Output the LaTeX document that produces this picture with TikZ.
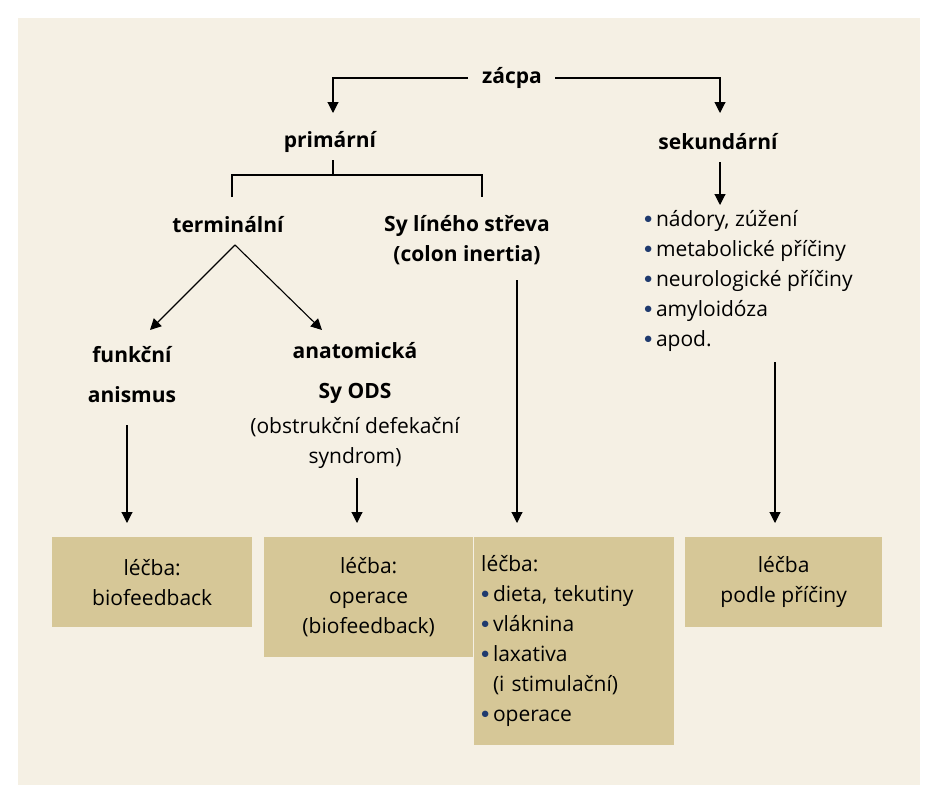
\documentclass[tikz,border=0pt]{standalone}
\usepackage{fontspec}
\setmainfont{Open Sans}
\usetikzlibrary{arrows.meta}
\definecolor{bg}{HTML}{F5F0E4}
\definecolor{boxc}{HTML}{D6C797}
\definecolor{bul}{HTML}{1F3A6E}
\begin{document}
\begin{tikzpicture}[x=1pt,y=-1pt,
  lab/.style={font=\fontsize{21}{30}\selectfont\bfseries,inner sep=0pt,align=center},
  txt/.style={font=\fontsize{21}{30}\selectfont,inner sep=0pt,align=center},
  box/.style={fill=boxc,draw=none,font=\fontsize{21}{30}\selectfont,align=center},
  con/.style={line width=1.1pt},
  arr/.style={con,-{Triangle[width=11pt,length=11pt]}}]
\useasboundingbox (0,0) rectangle (937,800);
\fill[white] (0,0) rectangle (937,800);
\fill[bg] (18,18) rectangle (920,785);
\newcommand{\bu}{{\color{bul}\raisebox{0.25ex}{\scalebox{0.8}{$\bullet$}}}\,}
% tree labels
\node[lab] (zacpa) at (512,78) {zácpa};
\node[lab] (prim) at (330,142) {primární};
\node[lab] (sek) at (718,142) {sekundární};
\node[lab] (term) at (228,225) {terminální};
\node[lab] (sy) at (467,240) {Sy líného střeva\\(colon inertia)};
\node[lab] (fun) at (132,375) {funkční\\[10pt]anismus};
\node[lab] (anat) at (355,373) {anatomická\\[10pt]Sy ODS};
\node[txt] (ods) at (355,443) {(obstrukční defekační\\syndrom)};
\node[txt,align=left,anchor=north west] (list) at (644,210) {\bu nádory, zúžení\\\bu metabolické příčiny\\\bu neurologické příčiny\\\bu amyloidóza\\\bu apod.};
% boxes
\node[box,minimum width=200pt,minimum height=90pt,anchor=north west] (b1) at (52,537) {léčba:\\biofeedback};
\node[box,minimum width=209pt,minimum height=120pt,anchor=north west] (b2) at (264,537) {léčba:\\operace\\(biofeedback)};
\node[box,minimum width=196pt,minimum height=208pt,anchor=north west,align=left,text width=186pt,inner xsep=7pt] (b3) at (474,537) {\raggedright léčba:\\\bu dieta, tekutiny\\\bu vláknina\\\bu laxativa\\\hphantom{\bu}(i stimulační)\\\bu operace};
\node[box,minimum width=197pt,minimum height=90pt,anchor=north west] (b4) at (685,537) {léčba\\podle příčiny};
% coordinates
\coordinate (zl) at (468,78); \coordinate (zr) at (555,78);
\coordinate (pl) at (333,113); \coordinate (pr) at (720,113);
\coordinate (pb) at (333,160); \coordinate (ph) at (333,175);
\coordinate (tl) at (232,197); \coordinate (tr) at (482,197);
\coordinate (tb) at (235,245);
\coordinate (fa) at (150,330); \coordinate (aa) at (322,330);
\coordinate (s1) at (720,162); \coordinate (s2) at (720,205);
\coordinate (f1) at (127,425); \coordinate (f2) at (127,523);
\coordinate (a1) at (357,478); \coordinate (a2) at (357,523);
\coordinate (c1) at (517,280); \coordinate (c2) at (517,523);
\coordinate (n1) at (775,362); \coordinate (n2) at (775,523);
% connectors
\draw[arr] (zl) -| (pl);
\draw[arr] (zr) -| (pr);
\draw[con] (pb) -- (ph);
\draw[con] (tl) |- (ph) -| (tr);
\draw[arr] (tb) -- (fa);
\draw[arr] (tb) -- (aa);
\draw[arr] (s1) -- (s2);
\draw[arr] (f1) -- (f2);
\draw[arr] (a1) -- (a2);
\draw[arr] (c1) -- (c2);
\draw[arr] (n1) -- (n2);
\end{tikzpicture}
\end{document}
